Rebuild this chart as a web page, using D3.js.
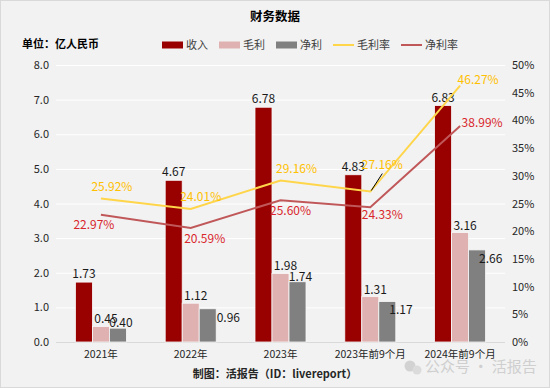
<!DOCTYPE html>
<html>
<head>
<meta charset="utf-8">
<script src="https://cdn.jsdelivr.net/npm/d3@7"></script>
<style>
  body { margin: 0; background: #fff; }
  text { font-family: "Noto Sans CJK SC", "Noto Sans", sans-serif; }
</style>
</head>
<body>
<div id="svg-container"></div>
<script>
// Data
const categories = ["2021年", "2022年", "2023年", "2023年前9个月", "2024年前9个月"];
const revenue = [1.73, 4.67, 6.78, 4.83, 6.83];
const grossProfit = [0.45, 1.12, 1.98, 1.31, 3.16];
const netProfit = [0.40, 0.96, 1.74, 1.17, 2.66];
const grossMargin = [25.92, 24.01, 29.16, 27.16, 46.27];
const netMargin = [22.97, 20.59, 25.60, 24.33, 38.99];
const leftTicks = [0, 1, 2, 3, 4, 5, 6, 7, 8];
const rightTicks = [0, 5, 10, 15, 20, 25, 30, 35, 40, 45, 50];

// Set dimensions
const width = 550;
const height = 388;
const plot = { left: 56, right: 505, top: 65, bottom: 342 };
const barW = 17;

const colors = {
  revenue: "#990000",
  gross: "#e0b1b1",
  net: "#808080",
  grossLine: "#ffd54a",
  netLine: "#c0585a",
  grossText: "#ffc000",
  netText: "#d9262c"
};

// label nudges (dx, dy) relative to each point / bar
const grossMarginNudge = [[11, -11], [10, -12], [16, -11], [12, -27], [18, -6]];
const netMarginNudge = [[-7, 10], [14, 11], [10, 11], [12, 8], [22, -3]];
// null = centred above the bar, number = placed right of the centre by that many px
const netBarLabelDx = [null, 26, null, 19, 19];

const xScale = d3.scaleBand()
  .domain(categories)
  .range([plot.left, plot.right])
  .padding(0);

const yLeft = d3.scaleLinear().domain([0, 8]).range([plot.bottom, plot.top]);
const yRight = d3.scaleLinear().domain([0, 50]).range([plot.bottom, plot.top]);

const cx = (i) => xScale(categories[i]) + xScale.bandwidth() / 2;

const svg = d3.select("#svg-container")
  .append("svg")
    .attr("width", width)
    .attr("height", height);

// Background
svg.append("rect")
  .attr("x", 0.5).attr("y", 0.5)
  .attr("width", width - 1).attr("height", height - 1)
  .attr("fill", "#f2f2f2")
  .attr("stroke", "#d9d9d9");

// Title
svg.append("text")
  .attr("x", 275).attr("y", 21)
  .attr("text-anchor", "middle")
  .style("font-size", "12.5px").style("font-weight", "bold")
  .text("财务数据");

svg.append("text")
  .attr("x", 22).attr("y", 48)
  .style("font-size", "11px").style("font-weight", "bold")
  .text("单位：亿人民币");

// Legend
const legendItems = [
  { name: "收入", color: colors.revenue, type: "bar", x: 162 },
  { name: "毛利", color: colors.gross, type: "bar", x: 219 },
  { name: "净利", color: colors.net, type: "bar", x: 276 },
  { name: "毛利率", color: colors.grossLine, type: "line", x: 333 },
  { name: "净利率", color: colors.netLine, type: "line", x: 401 }
];
const legend = svg.append("g");
legendItems.forEach(d => {
  if (d.type === "bar") {
    legend.append("rect")
      .attr("x", d.x).attr("y", 41.5)
      .attr("width", 21).attr("height", 7)
      .attr("fill", d.color);
  } else {
    legend.append("line")
      .attr("x1", d.x).attr("x2", d.x + 21)
      .attr("y1", 45).attr("y2", 45)
      .attr("stroke", d.color).attr("stroke-width", 2);
  }
  legend.append("text")
    .attr("x", d.x + 24).attr("y", 49)
    .style("font-size", "11px").style("fill", "#404040")
    .text(d.name);
});

// Gridlines
svg.append("g")
  .selectAll("line")
  .data(leftTicks)
  .enter()
  .append("line")
    .attr("x1", plot.left).attr("x2", plot.right)
    .attr("y1", d => yLeft(d) + 0.5).attr("y2", d => yLeft(d) + 0.5)
    .attr("stroke", d => d === 0 ? "#d9d9d9" : "#ffffff")
    .attr("stroke-width", 1);

// Left axis
const leftAxis = svg.append("g")
  .attr("transform", `translate(${plot.left - 7}, 0)`)
  .call(d3.axisLeft(yLeft).tickValues(leftTicks).tickFormat(d3.format(".1f")).tickSize(0).tickPadding(0));
leftAxis.select(".domain").remove();
leftAxis.selectAll("text").style("font-size", "11px").style("fill", "#262626")
  .style("font-family", "'Noto Sans CJK SC', sans-serif");

// Right axis
const rightAxis = svg.append("g")
  .attr("transform", `translate(${plot.right + 7}, 0)`)
  .call(d3.axisRight(yRight).tickValues(rightTicks).tickFormat(d => d + "%").tickSize(0).tickPadding(0));
rightAxis.select(".domain").remove();
rightAxis.selectAll("text").style("font-size", "11px").style("fill", "#262626")
  .style("font-family", "'Noto Sans CJK SC', sans-serif");

// X axis labels
svg.append("g")
  .selectAll("text")
  .data(categories)
  .enter()
  .append("text")
    .attr("x", (d, i) => cx(i))
    .attr("y", 358)
    .attr("text-anchor", "middle")
    .style("font-size", "10.5px").style("fill", "#262626")
    .text(d => d);

// Bars
const barSeries = [
  { name: "收入", values: revenue, color: colors.revenue, offset: -1.5 },
  { name: "毛利", values: grossProfit, color: colors.gross, offset: -0.5 },
  { name: "净利", values: netProfit, color: colors.net, offset: 0.5 }
];

barSeries.forEach(s => {
  svg.append("g")
    .selectAll("rect")
    .data(s.values)
    .enter()
    .append("rect")
      .attr("x", (d, i) => cx(i) + s.offset * barW)
      .attr("y", d => yLeft(d))
      .attr("width", barW)
      .attr("height", d => yLeft(0) - yLeft(d))
      .attr("fill", s.color)
      .attr("stroke", "#f8f8f8")
      .attr("stroke-width", 0.8);
});

// Bar labels
const barLabels = svg.append("g").style("font-size", "12px").style("fill", "#1a1a1a");
revenue.forEach((v, i) => {
  barLabels.append("text")
    .attr("x", cx(i) - barW)
    .attr("y", yLeft(v) - 4)
    .attr("text-anchor", "middle")
    .text(v.toFixed(2));
});
grossProfit.forEach((v, i) => {
  barLabels.append("text")
    .attr("x", cx(i) + 5)
    .attr("y", yLeft(v) - 3)
    .attr("text-anchor", "middle")
    .text(v.toFixed(2));
});
netProfit.forEach((v, i) => {
  const dx = netBarLabelDx[i];
  barLabels.append("text")
    .attr("x", dx === null ? cx(i) + barW + 3 : cx(i) + dx)
    .attr("y", dx === null ? yLeft(v) - 1 : yLeft(v) + 13)
    .attr("text-anchor", dx === null ? "middle" : "start")
    .text(v.toFixed(2));
});

// Lines
const line = d3.line()
  .x((d, i) => cx(i))
  .y(d => yRight(d));

svg.append("path")
  .attr("d", line(netMargin))
  .attr("fill", "none")
  .attr("stroke", colors.netLine)
  .attr("stroke-width", 2);

svg.append("path")
  .attr("d", line(grossMargin))
  .attr("fill", "none")
  .attr("stroke", colors.grossLine)
  .attr("stroke-width", 2);

// Leader line for 27.16%
svg.append("line")
  .attr("x1", cx(3) + 1).attr("y1", yRight(grossMargin[3]) - 1)
  .attr("x2", cx(3) + 12).attr("y2", yRight(grossMargin[3]) - 18)
  .attr("stroke", "#000").attr("stroke-width", 1);

// Line labels
const lineLabels = svg.append("g").style("font-size", "12px");
grossMargin.forEach((v, i) => {
  lineLabels.append("text")
    .attr("x", cx(i) + grossMarginNudge[i][0])
    .attr("y", yRight(v) + grossMarginNudge[i][1] + 4)
    .attr("text-anchor", "middle")
    .style("fill", colors.grossText)
    .text(v.toFixed(2) + "%");
});
netMargin.forEach((v, i) => {
  lineLabels.append("text")
    .attr("x", cx(i) + netMarginNudge[i][0])
    .attr("y", yRight(v) + netMarginNudge[i][1] + 4)
    .attr("text-anchor", "middle")
    .style("fill", colors.netText)
    .text(v.toFixed(2) + "%");
});

// Footer
svg.append("text")
  .attr("x", 275).attr("y", 378)
  .attr("text-anchor", "middle")
  .style("font-size", "11px").style("font-weight", "bold").style("fill", "#262626")
  .text("制图：活报告（ID：livereport）");

// Watermark
const wm = svg.append("g").style("opacity", 0.75);
wm.append("circle").attr("cx", 410).attr("cy", 366).attr("r", 5.5).attr("fill", "#c8c8c8");
wm.append("circle").attr("cx", 417).attr("cy", 370).attr("r", 4.5).attr("fill", "#d4d4d4");
wm.append("text")
  .attr("x", 425).attr("y", 372)
  .style("font-size", "15px").style("fill", "#c4c4c4")
  .text("公众号 · 活报告");
</script>
</body>
</html>
